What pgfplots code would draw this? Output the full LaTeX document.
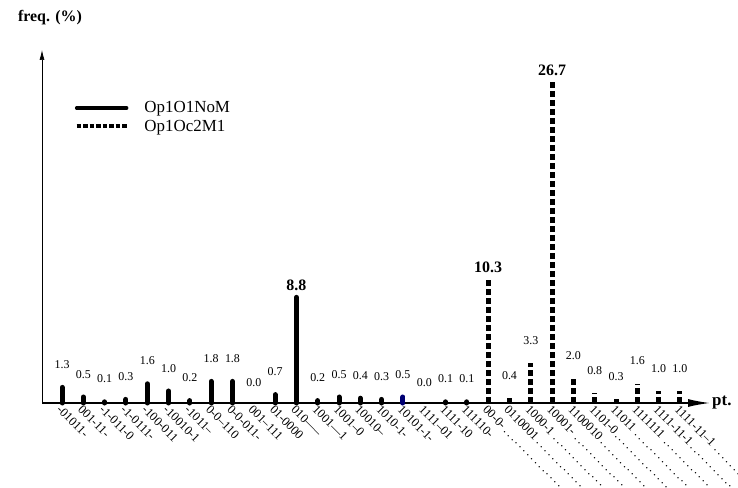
\documentclass[border=0pt]{standalone}
\usepackage{fontspec}
\setmainfont{Liberation Serif}
\usepackage{pgfplots}
\pgfplotsset{compat=1.18}
\usetikzlibrary{arrows.meta}
\newcommand{\dl}[1]{\makebox[150bp][l]{#1\dotfill}}
\begin{document}
\begin{tikzpicture}
\path[use as bounding box] (-42bp,-85bp) rectangle (696bp,403bp);
\begin{axis}[
  at={(0,0)}, anchor=south west,
  scale only axis, width=668bp, height=353bp,
  xmin=-0.94, xmax=30.41, ymin=0, ymax=29.4,
  axis lines=left,
  x axis line style={line width=1.4bp, -{Latex[length=22bp,width=8bp]}},
  y axis line style={line width=0.7bp, -{Latex[length=10bp,width=5bp]}},
  ytick=\empty,
  xtick={0,...,29},
  major tick length=0pt,
  xticklabels={{-01011-},{001-11-},{-1-011-0},{-1-0111-},{-100-011},{-10010-1},{-1011--},{0-0--110},{0-0-011-},{001--111},{01-0000},{010-----},{1001---1},{1001--0},{10010--},{1010-1-},{10101-1-},{1111--01},{1111-10},{111110-},
  {\dl{00-0-}},{\dl{0110001}},{\dl{1000-1}},{\dl{10001-}},{\dl{1100010}},{\dl{1101-0}},{\dl{11011}},{\dl{1111111}},{\dl{1111-11-1}},{\dl{1111-11--1}}},
  xticklabel style={rotate=-45, anchor=north west, inner sep=1bp, font=\fontsize{12.5}{12.5}\selectfont},
  clip=false,
  legend style={at={(0.049,0.86)}, anchor=north west, draw=none, fill=none,
    font=\fontsize{17}{18}\selectfont, row sep=1.5bp, inner sep=0pt,
    /tikz/every odd column/.append style={column sep=14bp}},
  legend cell align=left,
  nodes near coords={\pgfmathprintnumber[fixed,fixed zerofill,precision=1,assume math mode=true]{\pgfplotspointmeta}},
  every node near coord/.append style={black},
  small/.style={every node near coord/.append style={font=\fontsize{12}{12}\selectfont, yshift=13bp}},
  big/.style={every node near coord/.append style={font=\bfseries\fontsize{16}{16}\selectfont, yshift=1bp}},
]
\addplot[ycomb, black, line width=5bp, line cap=round, mark=none, small,
  legend image code/.code={\draw[black,line width=3.5bp] (0bp,0bp) -- (50bp,0bp);}]
  table {
x y
0 1.3
1 0.5
2 0.1
3 0.3
4 1.6
5 1.0
6 0.2
7 1.8
8 1.8
10 0.7
12 0.2
13 0.5
14 0.4
15 0.3
18 0.1
19 0.1
};
\addlegendentry{Op1O1NoM}
\addplot[ycomb, black, line width=5bp, mark=none, small, dash pattern=on 6bp off 3bp,
  legend image code/.code={\draw[black,line width=3.5bp,dash pattern=on 4.5bp off 2bp] (0bp,0bp) -- (50bp,0bp);}]
  table {
x y
21 0.4
22 3.3
24 2.0
25 0.8
26 0.3
27 1.6
28 1.0
29 1.0
};
\addlegendentry{Op1Oc2M1}
\addplot[ycomb, draw=none, mark=none, forget plot, small]
  table {
x y
9 0.0
17 0.0
};
\addplot[ycomb, black, line width=5bp, line cap=round, mark=none, forget plot, big]
  table {
x y
11 8.8
};
\addplot[ycomb, black, line width=5bp, mark=none, forget plot, big, dash pattern=on 6bp off 3bp]
  table {
x y
20 10.3
23 26.7
};
\addplot[ycomb, blue!45!black, line width=5bp, line cap=round, mark=none, forget plot, small]
  table {
x y
16 0.5
};
\node[anchor=west, font=\bfseries\fontsize{17}{18}\selectfont, inner sep=2bp] at (rel axis cs:1,0) {pt.};
\node[font=\bfseries\fontsize{16}{16}\selectfont] at ([xshift=8bp,yshift=32bp]rel axis cs:0,1) {freq. (\%)};
\end{axis}
\end{tikzpicture}
\end{document}
